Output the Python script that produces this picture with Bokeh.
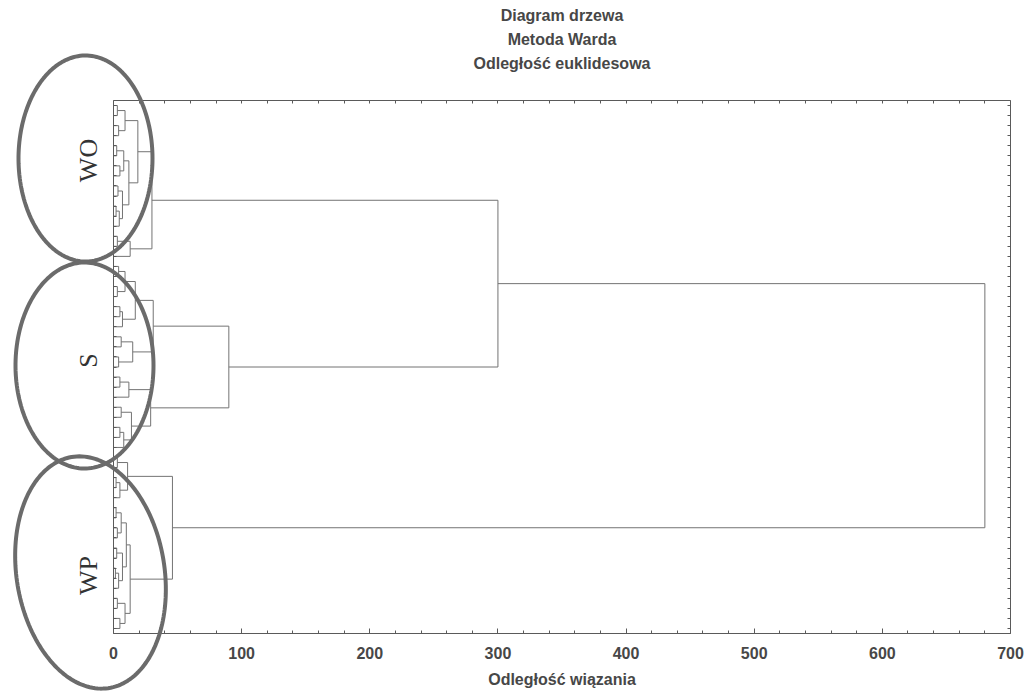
import numpy as np
from bokeh.plotting import figure
from bokeh.models import (Range1d, LinearAxis, FixedTicker, PolyAnnotation,
                          Label, ColumnDataSource)
from bokeh.embed import file_html
from bokeh.resources import INLINE

# ---------------- data ----------------
title_lines = ["Diagram drzewa", "Metoda Warda", "Odległość euklidesowa"]
x_axis_label = "Odległość wiązania"
x_ticks = [0, 100, 200, 300, 400, 500, 600, 700]
n_leaves = 53

group_names = ["WO", "S", "WP"]
group_first_leaf = [0, 16, 35]
group_last_leaf = [15, 34, 52]

# Ward linkage read from the tree: each merge joins leaves [lo..mid] with
# leaves [mid+1..hi] at the given linkage distance (leaves ordered top->bottom)
merge_lo = [0, 2, 0, 4, 6, 4, 8, 10, 10, 8, 4, 0, 13, 13, 0,
            16, 18, 16, 20, 20, 16, 23, 25, 23, 16, 27, 27, 30, 32, 32, 30, 27, 16,
            35, 37, 37, 35, 40, 42, 40, 44, 46, 46, 44, 40, 49, 51, 49, 40, 35,
            0, 0]
merge_mid = [0, 2, 1, 4, 6, 5, 8, 10, 11, 9, 7, 3, 13, 14, 12,
             16, 18, 17, 20, 21, 19, 23, 25, 24, 22, 27, 28, 30, 32, 33, 31, 29, 26,
             35, 37, 38, 36, 40, 42, 41, 44, 46, 47, 45, 43, 49, 51, 50, 48, 39,
             15, 34]
merge_hi = [1, 3, 3, 5, 7, 7, 9, 11, 12, 12, 12, 12, 14, 15, 15,
            17, 19, 19, 21, 22, 22, 24, 26, 26, 26, 28, 29, 31, 33, 34, 34, 34, 34,
            36, 38, 39, 39, 41, 43, 43, 45, 47, 48, 48, 48, 50, 52, 52, 52, 52,
            34, 52]
merge_h = [3, 4, 9, 2.5, 5, 8, 3.5, 2, 4.5, 7, 12, 19, 3, 13, 30,
           4, 3, 9, 5, 7, 17, 6, 4, 15, 31, 5, 12, 6, 5, 8, 14, 29, 90,
           3, 2, 5, 11, 2, 3, 6, 2.5, 1.5, 4, 7, 10, 3, 5, 9, 13, 46,
           300, 680]

# ---------------- dendrogram geometry ----------------
pos = {(i, i): (0.0, float(i)) for i in range(n_leaves)}
x0, y0, x1, y1 = [], [], [], []
order = sorted(range(len(merge_h)), key=lambda k: merge_hi[k] - merge_lo[k])
for k in order:
    lo, md, hi, h = merge_lo[k], merge_mid[k], merge_hi[k], merge_h[k]
    xa, ya = pos[(lo, md)]
    xb, yb = pos[(md + 1, hi)]
    x0 += [xa, xb, h]
    y0 += [ya, yb, ya]
    x1 += [h, h, h]
    y1 += [ya, yb, yb]
    pos[(lo, hi)] = (h, (ya + yb) / 2.0)

src = ColumnDataSource(dict(x0=x0, y0=y0, x1=x1, y1=y1))

# ---------------- layout: one frame over the whole canvas ----------------
W, H = 1032, 695
L, R, T, B = 113.0, 1010.0, 100.0, 633.0   # dendrogram box, in page pixels


def dx(px):
    return (px - L) / (R - L) * 700.0


def dy(py):
    return -0.5 + (py - T) / (B - T) * n_leaves


FONT = "Liberation Sans"
TXT = "#474747"
LINE = "#5a5a5a"

p = figure(width=W, height=H, output_backend="svg", toolbar_location=None,
           x_range=Range1d(dx(0), dx(W)), y_range=Range1d(dy(H), dy(0)),
           min_border=0, min_border_left=0, min_border_right=0,
           min_border_top=0, min_border_bottom=0)
p.xgrid.visible = False
p.ygrid.visible = False
p.outline_line_color = None
p.background_fill_color = "white"
p.border_fill_color = "white"

p.segment("x0", "y0", "x1", "y1", source=src, line_color="#737373", line_width=1)

# bottom axis (at the bottom of the box)
xa_ = p.xaxis[0]
xa_.fixed_location = n_leaves - 0.5
xa_.bounds = (0, 700)
xa_.ticker = FixedTicker(ticks=x_ticks, minor_ticks=list(range(0, 701, 20)))
xa_.major_tick_in = 5
xa_.major_tick_out = 0
xa_.minor_tick_in = 3
xa_.minor_tick_out = 0
xa_.axis_line_color = LINE
xa_.major_tick_line_color = LINE
xa_.minor_tick_line_color = LINE
xa_.major_label_text_font = FONT
xa_.major_label_text_font_size = "16px"
xa_.major_label_text_font_style = "bold"
xa_.major_label_text_color = TXT
xa_.major_label_standoff = 13
xa_.axis_label = x_axis_label
xa_.axis_label_text_font = FONT
xa_.axis_label_text_font_size = "16px"
xa_.axis_label_text_font_style = "bold"
xa_.axis_label_text_color = TXT
xa_.axis_label_standoff = 9

# top axis (ticks only)
top = LinearAxis(ticker=FixedTicker(ticks=[], minor_ticks=list(range(0, 701, 20))),
                 fixed_location=-0.5, bounds=(0, 700),
                 minor_tick_in=3, minor_tick_out=0, axis_line_color=LINE,
                 minor_tick_line_color=LINE)
p.add_layout(top, "above")

# left / right axes (leaf ticks only)
leaf_ticks = list(range(n_leaves))
ya_ = p.yaxis[0]
ya_.fixed_location = 0
ya_.bounds = (-0.5, n_leaves - 0.5)
ya_.ticker = FixedTicker(ticks=[], minor_ticks=leaf_ticks)
ya_.minor_tick_in = 3
ya_.minor_tick_out = 0
ya_.axis_line_color = LINE
ya_.minor_tick_line_color = LINE
right = LinearAxis(ticker=FixedTicker(ticks=[], minor_ticks=leaf_ticks),
                   fixed_location=700, bounds=(-0.5, n_leaves - 0.5),
                   minor_tick_in=3, minor_tick_out=0, axis_line_color=LINE,
                   minor_tick_line_color=LINE)
p.add_layout(right, "right")

# ---------------- titles ----------------
for i, line in enumerate(title_lines):
    p.add_layout(Label(x=350, y=dy(15 + 24 * i), text=line, text_align="center",
                       text_baseline="middle", text_font=FONT,
                       text_font_size="16px", text_font_style="bold",
                       text_color=TXT))

# ---------------- hand-drawn group ellipses ----------------
ell_cx = [85, 84, 90]
ell_cy = [158, 365, 572]
ell_a = [67, 69, 74]
ell_b = [103, 103, 117]
ell_tilt_deg = [0, 0, -9]
lab_cy = [160, 360, 575]
t = np.linspace(0, 2 * np.pi, 180)
for i, name in enumerate(group_names):
    th = np.deg2rad(ell_tilt_deg[i])
    u = ell_a[i] * np.cos(t)
    v = ell_b[i] * np.sin(t)
    px = ell_cx[i] + u * np.cos(th) - v * np.sin(th)
    py = ell_cy[i] + u * np.sin(th) + v * np.cos(th)
    p.add_layout(PolyAnnotation(xs=[dx(a) for a in px], ys=[dy(b) for b in py],
                                xs_units="data", ys_units="data",
                                fill_alpha=0, line_color="#6b6b6b",
                                line_alpha=1.0, line_width=4))
    p.add_layout(Label(x=dx(88), y=dy(lab_cy[i]), text=name, angle=np.pi / 2,
                       text_align="center", text_baseline="middle",
                       text_font="Liberation Serif", text_font_size="26px",
                       text_color="#333333"))

open("out.html", "w").write(file_html(p, INLINE))
